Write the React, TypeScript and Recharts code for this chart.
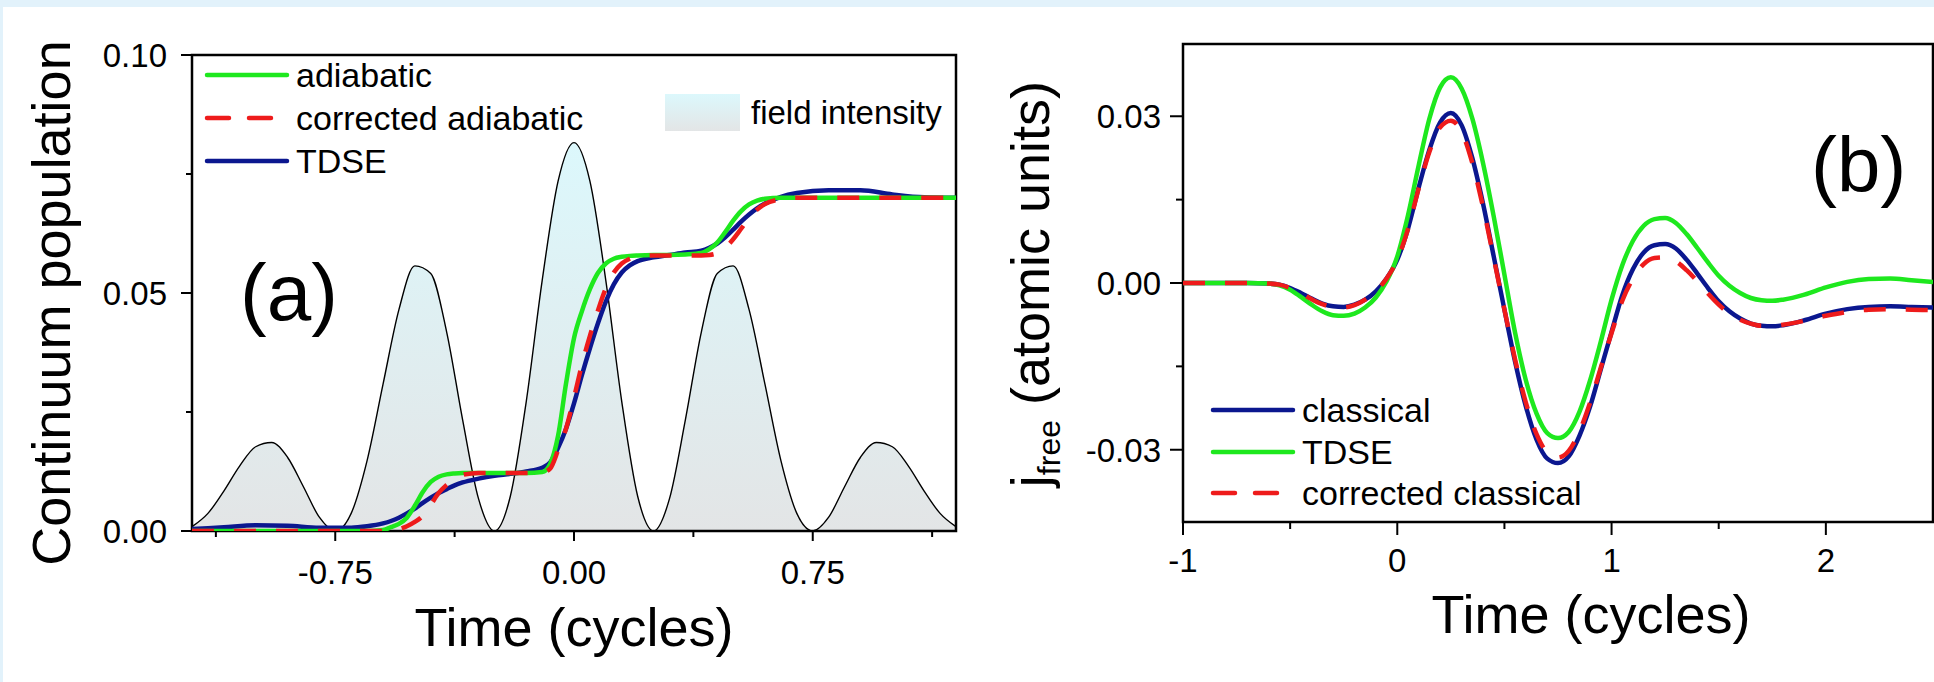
import React from "react";
import { ComposedChart, Line, Area, XAxis, YAxis, ReferenceArea } from "recharts";

const FONT = "'Liberation Sans', Arial, Helvetica, sans-serif";
const GREEN = "#1ee81e";
const RED = "#ee1b1b";
const NAVY = "#0b178f";

// ---------- Panel (a): continuum population ----------
const timeA = [-1.2, -1.1, -1.0, -0.9, -0.8, -0.7, -0.65, -0.6, -0.575, -0.55, -0.525, -0.5, -0.475, -0.45, -0.425, -0.4, -0.375, -0.35, -0.3, -0.25, -0.2, -0.15, -0.1, -0.075, -0.05, -0.025, 0, 0.025, 0.05, 0.075, 0.1, 0.125, 0.15, 0.175, 0.2, 0.25, 0.3, 0.35, 0.4, 0.425, 0.45, 0.475, 0.5, 0.525, 0.55, 0.575, 0.6, 0.65, 0.7, 0.8, 0.9, 1.0, 1.1, 1.2];
const adiabatic = [0, 0, 0, 0, 0, 0, 0, 0.0002, 0.0008, 0.0015, 0.0028, 0.0053, 0.0082, 0.0103, 0.0114, 0.0119, 0.0121, 0.0122, 0.0122, 0.0122, 0.0122, 0.0122, 0.0124, 0.0141, 0.02, 0.031, 0.0405, 0.0462, 0.0508, 0.0542, 0.0562, 0.0572, 0.0576, 0.0578, 0.0579, 0.058, 0.058, 0.0581, 0.0584, 0.0592, 0.0606, 0.0628, 0.0652, 0.0672, 0.0686, 0.0694, 0.0698, 0.07, 0.07, 0.07, 0.07, 0.07, 0.07, 0.07];
const correctedAdiabatic = [0, 0, 0, 0, 0, 0, 0, 0, 0.0001, 0.0004, 0.001, 0.0019, 0.0032, 0.0055, 0.008, 0.0097, 0.011, 0.0118, 0.0122, 0.0122, 0.0122, 0.0122, 0.0123, 0.0131, 0.017, 0.0215, 0.028, 0.035, 0.041, 0.0463, 0.051, 0.0543, 0.0562, 0.0572, 0.0577, 0.0579, 0.0579, 0.0579, 0.0579, 0.058, 0.0584, 0.0595, 0.0613, 0.0635, 0.0657, 0.0675, 0.0687, 0.0697, 0.07, 0.07, 0.07, 0.07, 0.07, 0.07];
const tdsePopulation = [0.0004, 0.0008, 0.0012, 0.0011, 0.0007, 0.0007, 0.001, 0.0016, 0.0021, 0.0028, 0.0037, 0.0047, 0.0059, 0.007, 0.008, 0.0088, 0.0096, 0.0102, 0.011, 0.0116, 0.012, 0.0125, 0.0133, 0.0144, 0.0175, 0.0215, 0.0268, 0.0328, 0.0384, 0.0436, 0.0482, 0.0518, 0.0543, 0.0558, 0.0567, 0.0575, 0.058, 0.0585, 0.0589, 0.0595, 0.0604, 0.0617, 0.0633, 0.065, 0.0665, 0.0678, 0.0688, 0.0702, 0.071, 0.0716, 0.0716, 0.0707, 0.0701, 0.07];

const timeField = [-1.2, -1.15, -1.1, -1.05, -1.0, -0.95, -0.9, -0.85, -0.8, -0.75, -0.7, -0.65, -0.6, -0.55, -0.5, -0.45, -0.4, -0.35, -0.3, -0.25, -0.2, -0.15, -0.1, -0.05, 0, 0.05, 0.1, 0.15, 0.2, 0.25, 0.3, 0.35, 0.4, 0.45, 0.5, 0.55, 0.6, 0.65, 0.7, 0.75, 0.8, 0.85, 0.9, 0.95, 1.0, 1.05, 1.1, 1.15, 1.2];
const fieldIntensity = [0.0009, 0.0037, 0.0084, 0.0137, 0.0177, 0.0186, 0.0155, 0.0093, 0.0029, 0, 0.0037, 0.0148, 0.0308, 0.0465, 0.0557, 0.0541, 0.0418, 0.0234, 0.0068, 0, 0.0073, 0.0272, 0.0526, 0.0735, 0.0816, 0.0735, 0.0526, 0.0272, 0.0073, 0, 0.0068, 0.0234, 0.0418, 0.0541, 0.0557, 0.0465, 0.0308, 0.0148, 0.0037, 0, 0.0029, 0.0093, 0.0155, 0.0186, 0.0177, 0.0137, 0.0084, 0.0037, 0.0009];

const xMajorA = [-0.75, 0, 0.75];
const xMinorA = [-1.125, -0.375, 0.375, 1.125];
const yMajorA = [0, 0.05, 0.1];
const yMinorA = [0.025, 0.075];

// ---------- Panel (b): free current ----------
const timeB = [-1, -0.9, -0.8, -0.7, -0.6, -0.55, -0.5, -0.45, -0.4, -0.35, -0.3, -0.25, -0.2, -0.15, -0.1, -0.05, 0, 0.05, 0.1, 0.15, 0.2, 0.25, 0.3, 0.35, 0.4, 0.45, 0.5, 0.55, 0.6, 0.65, 0.7, 0.75, 0.8, 0.85, 0.9, 0.95, 1.0, 1.05, 1.1, 1.15, 1.2, 1.25, 1.3, 1.35, 1.4, 1.45, 1.5, 1.55, 1.6, 1.65, 1.7, 1.75, 1.8, 1.9, 2.0, 2.1, 2.2, 2.3, 2.4, 2.5];
const classical = [0, 0, 0, 0, -0.0001, -0.0003, -0.0009, -0.0018, -0.0028, -0.0037, -0.0042, -0.0043, -0.0039, -0.003, -0.0015, 0.0008, 0.0042, 0.0098, 0.0172, 0.024, 0.0289, 0.0306, 0.0284, 0.0225, 0.0143, 0.0048, -0.0048, -0.0142, -0.0222, -0.0282, -0.0316, -0.0324, -0.0312, -0.0275, -0.0222, -0.0155, -0.0088, -0.0022, 0.0025, 0.0055, 0.0068, 0.007, 0.0062, 0.0042, 0.0017, -0.0009, -0.0033, -0.0051, -0.0064, -0.0073, -0.0077, -0.0078, -0.0076, -0.0067, -0.0055, -0.0047, -0.0043, -0.0042, -0.0043, -0.0044];
const tdseCurrent = [0, 0, 0, 0, -0.0001, -0.0004, -0.0012, -0.0025, -0.0039, -0.0051, -0.0058, -0.0059, -0.0055, -0.0044, -0.0026, 0.0003, 0.0048, 0.0122, 0.0212, 0.0296, 0.0352, 0.037, 0.035, 0.0296, 0.0216, 0.012, 0.0015, -0.009, -0.0175, -0.0235, -0.027, -0.0279, -0.0268, -0.0232, -0.0175, -0.0105, -0.003, 0.0032, 0.0076, 0.0103, 0.0115, 0.0117, 0.0108, 0.0088, 0.0063, 0.0037, 0.0013, -0.0005, -0.0018, -0.0027, -0.0031, -0.0032, -0.003, -0.0021, -0.0008, 0.0002, 0.0007, 0.0008, 0.0005, 0.0002];
const correctedClassical = [0, 0, 0, 0, -0.0001, -0.0003, -0.0009, -0.0018, -0.0029, -0.0038, -0.0043, -0.0044, -0.004, -0.003, -0.0015, 0.0008, 0.0042, 0.0097, 0.017, 0.0236, 0.028, 0.0292, 0.0272, 0.0216, 0.0137, 0.0045, -0.0048, -0.0138, -0.0215, -0.0272, -0.0305, -0.0314, -0.0302, -0.0267, -0.0215, -0.0152, -0.009, -0.0032, 0.0008, 0.0034, 0.0045, 0.0046, 0.0039, 0.0023, 0.0003, -0.0019, -0.0039, -0.0055, -0.0066, -0.0073, -0.0077, -0.0077, -0.0075, -0.0068, -0.0059, -0.0052, -0.0048, -0.0047, -0.0048, -0.0049];

const xMajorB = [-1, 0, 1, 2];
const xMinorB = [-0.5, 0.5, 1.5];
const yMajorB = [-0.03, 0, 0.03];
const yMinorB = [-0.015, 0.015];

// ---------- tables ----------
function buildTableA() {
  const map = new Map<number, any>();
  const row = (t: number) => {
    const k = Math.round(t * 1000);
    if (!map.has(k)) map.set(k, { t });
    return map.get(k);
  };
  timeA.forEach((t, i) => {
    const r = row(t);
    r.adiabatic = adiabatic[i];
    r.corrected = correctedAdiabatic[i];
    r.tdse = tdsePopulation[i];
  });
  timeField.forEach((t, i) => {
    row(t).field = fieldIntensity[i];
  });
  return Array.from(map.values()).sort((a, b) => a.t - b.t);
}
const tableA = buildTableA();
const tableB = timeB.map((t, i) => ({ t, classical: classical[i], tdse: tdseCurrent[i], corrected: correctedClassical[i] }));

const isIn = (arr: number[], v: number) => arr.some((m) => Math.abs(m - v) < 1e-9);

function makeXTick(majors: number[], fmt: (v: number) => string, majLen: number, minLen: number, labelOff: number) {
  return (props: any) => {
    const { x, y, payload } = props;
    const v = payload.value;
    const major = isIn(majors, v);
    return (
      <g>
        <line x1={x} y1={y} x2={x} y2={y + (major ? majLen : minLen)} stroke="#000" strokeWidth={2} />
        {major && (
          <text x={x} y={y + labelOff} textAnchor="middle" fontSize={33} fontFamily={FONT} fill="#000">
            {fmt(v)}
          </text>
        )}
      </g>
    );
  };
}

function makeYTick(majors: number[], fmt: (v: number) => string, majLen: number, minLen: number, labelOff: number) {
  return (props: any) => {
    const { x, y, payload } = props;
    const v = payload.value;
    const major = isIn(majors, v);
    return (
      <g>
        <line x1={x} y1={y} x2={x - (major ? majLen : minLen)} y2={y} stroke="#000" strokeWidth={2} />
        {major && (
          <text x={x - labelOff} y={y + 12} textAnchor="end" fontSize={33} fontFamily={FONT} fill="#000">
            {fmt(v)}
          </text>
        )}
      </g>
    );
  };
}

const fmt2 = (v: number) => v.toFixed(2);
const fmtInt = (v: number) => String(v);

export default function App() {
  return (
    <div style={{ position: "absolute", left: 0, top: 0, width: 1934, height: 682, background: "#e2f2fb", overflow: "hidden" }}>
      <div style={{ position: "absolute", left: 3, top: 7, right: 0, bottom: 0, background: "#ffffff" }} />

      {/* Panel (a) */}
      <div style={{ position: "absolute", left: 0, top: 0 }}>
        <ComposedChart width={1000} height={682} data={tableA} margin={{ top: 55, right: 44, bottom: 91, left: 132 }}>
          <defs>
            <linearGradient id="fieldGrad" x1="0" y1="0" x2="0" y2="1">
              <stop offset="0%" stopColor="#dcf8fc" />
              <stop offset="100%" stopColor="#e3e5e6" />
            </linearGradient>
          </defs>
          <XAxis
            type="number"
            dataKey="t"
            domain={[-1.2, 1.2]}
            allowDataOverflow
            ticks={[...xMinorA, ...xMajorA].sort((a, b) => a - b)}
            interval={0}
            height={60}
            axisLine={false}
            tickLine={false}
            tickSize={0}
            tickMargin={0}
            tick={makeXTick(xMajorA, fmt2, 10, 6, 53)}
          />
          <YAxis
            type="number"
            domain={[0, 0.1]}
            allowDataOverflow
            ticks={[...yMinorA, ...yMajorA].sort((a, b) => a - b)}
            interval={0}
            width={60}
            axisLine={false}
            tickLine={false}
            tickSize={0}
            tickMargin={0}
            tick={makeYTick(yMajorA, fmt2, 11, 6, 25)}
          />
          <Area
            type="monotone"
            dataKey="field"
            stroke="#000"
            strokeWidth={1.4}
            fill="url(#fieldGrad)"
            fillOpacity={1}
            connectNulls
            dot={false}
            activeDot={false}
            isAnimationActive={false}
          />
          <Line type="monotone" dataKey="tdse" stroke={NAVY} strokeWidth={4.5} dot={false} activeDot={false} connectNulls isAnimationActive={false} />
          <Line type="monotone" dataKey="adiabatic" stroke={GREEN} strokeWidth={4.5} dot={false} activeDot={false} connectNulls isAnimationActive={false} />
          <Line type="monotone" dataKey="corrected" stroke={RED} strokeWidth={4.5} strokeDasharray="22 20" dot={false} activeDot={false} connectNulls isAnimationActive={false} />
          <ReferenceArea x1={-1.2} x2={1.2} y1={0} y2={0.1} fill="none" fillOpacity={0} stroke="#000" strokeWidth={2.5} />
        </ComposedChart>
      </div>

      {/* Panel (b) */}
      <div style={{ position: "absolute", left: 1000, top: 0 }}>
        <ComposedChart width={934} height={682} data={tableB} margin={{ top: 44, right: 1, bottom: 100, left: 123 }}>
          <XAxis
            type="number"
            dataKey="t"
            domain={[-1, 2.5]}
            allowDataOverflow
            ticks={[...xMinorB, ...xMajorB].sort((a, b) => a - b)}
            interval={0}
            height={60}
            axisLine={false}
            tickLine={false}
            tickSize={0}
            tickMargin={0}
            tick={makeXTick(xMajorB, fmtInt, 13, 7, 50)}
          />
          <YAxis
            type="number"
            domain={[-0.043, 0.043]}
            allowDataOverflow
            ticks={[...yMinorB, ...yMajorB].sort((a, b) => a - b)}
            interval={0}
            width={60}
            axisLine={false}
            tickLine={false}
            tickSize={0}
            tickMargin={0}
            tick={makeYTick(yMajorB, fmt2, 13, 7, 22)}
          />
          <Line type="monotone" dataKey="classical" stroke={NAVY} strokeWidth={4.5} dot={false} activeDot={false} isAnimationActive={false} />
          <Line type="monotone" dataKey="tdse" stroke={GREEN} strokeWidth={4.5} dot={false} activeDot={false} isAnimationActive={false} />
          <Line type="monotone" dataKey="corrected" stroke={RED} strokeWidth={4.5} strokeDasharray="22 20" dot={false} activeDot={false} isAnimationActive={false} />
          <ReferenceArea x1={-1} x2={2.5} y1={-0.043} y2={0.043} fill="none" fillOpacity={0} stroke="#000" strokeWidth={2.5} />
        </ComposedChart>
      </div>

      {/* Overlay: titles, legends, panel labels */}
      <svg width={1934} height={682} style={{ position: "absolute", left: 0, top: 0, pointerEvents: "none" }} fontFamily={FONT}>
        <defs>
          <linearGradient id="swatchGrad" x1="0" y1="0" x2="0" y2="1">
            <stop offset="0%" stopColor="#dcf8fc" />
            <stop offset="100%" stopColor="#e3e5e6" />
          </linearGradient>
        </defs>

        {/* Panel (a) legend */}
        <line x1={207} y1={75} x2={287} y2={75} stroke={GREEN} strokeWidth={4.5} strokeLinecap="round" />
        <text x={296} y={87} fontSize={34} fill="#000">adiabatic</text>
        <line x1={207} y1={118} x2={287} y2={118} stroke={RED} strokeWidth={4.5} strokeDasharray="22 20" strokeLinecap="round" />
        <text x={296} y={130} fontSize={34} fill="#000">corrected adiabatic</text>
        <line x1={207} y1={161} x2={287} y2={161} stroke={NAVY} strokeWidth={4.5} strokeLinecap="round" />
        <text x={296} y={173} fontSize={34} fill="#000">TDSE</text>
        <rect x={665} y={94} width={75} height={37} fill="url(#swatchGrad)" />
        <text x={751} y={124} fontSize={33} fill="#000">field intensity</text>

        <text x={240} y={320} fontSize={80} fill="#000">(a)</text>

        <text x={574} y={646} fontSize={54} textAnchor="middle" fill="#000">Time (cycles)</text>
        <text x={70} y={303} fontSize={54} textAnchor="middle" fill="#000" transform="rotate(-90 70 303)">Continuum population</text>

        {/* Panel (b) legend */}
        <line x1={1213} y1={410} x2={1293} y2={410} stroke={NAVY} strokeWidth={4.5} strokeLinecap="round" />
        <text x={1302} y={422} fontSize={34} fill="#000">classical</text>
        <line x1={1213} y1={452} x2={1293} y2={452} stroke={GREEN} strokeWidth={4.5} strokeLinecap="round" />
        <text x={1302} y={464} fontSize={34} fill="#000">TDSE</text>
        <line x1={1213} y1={493} x2={1293} y2={493} stroke={RED} strokeWidth={4.5} strokeDasharray="22 20" strokeLinecap="round" />
        <text x={1302} y={505} fontSize={34} fill="#000">corrected classical</text>

        <text x={1811} y={192} fontSize={78} fill="#000">(b)</text>

        <text x={1591} y={633} fontSize={54} textAnchor="middle" fill="#000">Time (cycles)</text>
        <text x={1049} y={284} fontSize={54} textAnchor="middle" fill="#000" transform="rotate(-90 1049 284)">
          j<tspan fontSize={32} dy={11}>free</tspan>
          <tspan dy={-11}> (atomic units)</tspan>
        </text>
      </svg>
    </div>
  );
}
